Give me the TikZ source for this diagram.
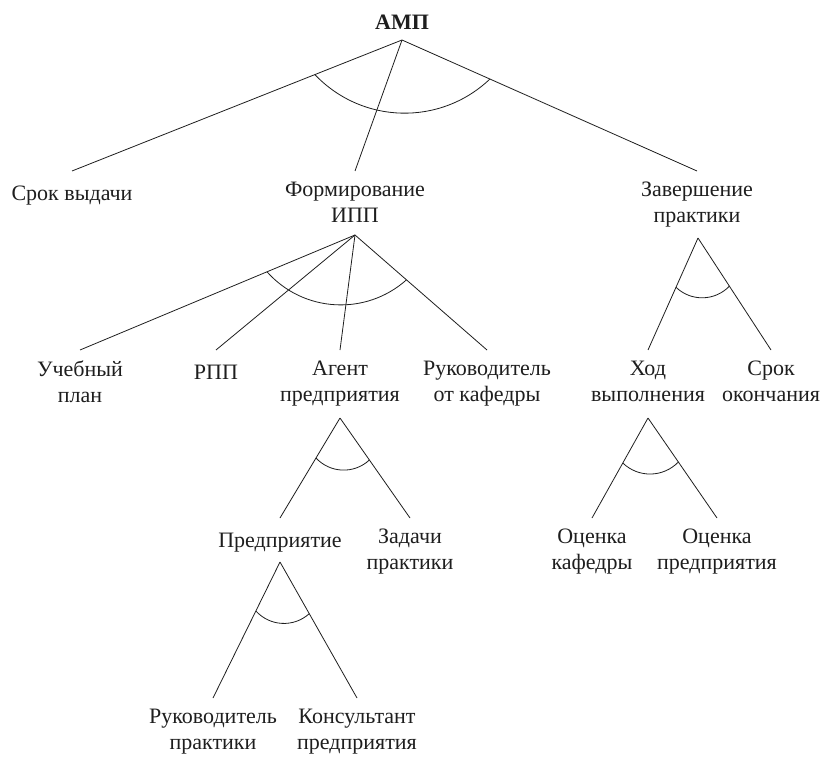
\documentclass[tikz,border=0pt]{standalone}
\usepackage{fontspec}
\setmainfont{Liberation Serif}
\usetikzlibrary{calc}
\definecolor{ink}{RGB}{30, 30, 30}
\tikzset{
    lbl/.style  = {font=\fontsize{22}{26}\selectfont, text=ink, align=center, anchor=north,
                   inner xsep=0pt, inner ysep=11pt,
                   execute at begin node=\strut, execute at end node=\strut},
    link/.style = {draw=ink, line width=0.8pt},
    andarc/.style = {link, bend right=45}
}

\begin{document}
\begin{tikzpicture}[x=1pt, y=-1pt]
            \useasboundingbox                                   (0, 0) rectangle (822, 757);
            \node[lbl] (amp)    at (402,   0) {\textbf{АМП}};
            \node[lbl] (srok)   at ( 72, 171) {Срок выдачи};
            \node[lbl] (ipp)    at (355, 171) {Формирование\\ИПП};
            \node[lbl] (zav)    at (697, 171) {Завершение\\практики};
            \node[lbl] (ucheb)  at ( 80, 350) {Учебный\\план};
            \node[lbl] (rpp)    at (216, 350) {РПП};
            \node[lbl] (agent)  at (340, 350) {Агент\\предприятия};
            \node[lbl] (ruk)    at (487, 350) {Руководитель\\от кафедры};
            \node[lbl] (hod)    at (648, 350) {Ход\\выполнения};
            \node[lbl] (srokok) at (771, 350) {Срок\\окончания};
            \node[lbl] (pred)   at (280, 518) {Предприятие};
            \node[lbl] (zad)    at (410, 518) {Задачи\\практики};
            \node[lbl] (ockaf)  at (592, 518) {Оценка\\кафедры};
            \node[lbl] (ocpred) at (717, 518) {Оценка\\предприятия};
            \node[lbl] (rukpr)  at (213, 698) {Руководитель\\практики};
            \node[lbl] (kons)   at (357, 698) {Консультант\\предприятия};

            \coordinate (amp-r)   at (402,  40);
            \coordinate (ipp-r)   at (355, 235);
            \coordinate (zav-r)   at (698, 238);
            \coordinate (agent-r) at (340, 418);
            \coordinate (hod-r)   at (648, 418);
            \coordinate (pred-r)  at (280, 562);

            \foreach \r/\c in {amp-r/srok, amp-r/ipp, amp-r/zav,
                               ipp-r/ucheb, ipp-r/rpp, ipp-r/agent, ipp-r/ruk,
                               zav-r/hod, zav-r/srokok, agent-r/pred, agent-r/zad,
                               hod-r/ockaf, hod-r/ocpred, pred-r/rukpr, pred-r/kons}
                \draw[link] (\r) -- (\c.north);

            \draw[andarc] ($(amp-r)!0.264!(srok.north)$)    to ($(amp-r)!0.298!(zav.north)$);
            \draw[andarc] ($(ipp-r)!0.32!(ucheb.north)$)    to ($(ipp-r)!0.39!(ruk.north)$);
            \draw[andarc] ($(zav-r)!0.44!(hod.north)$)      to ($(zav-r)!0.43!(srokok.north)$);
            \draw[andarc] ($(agent-r)!0.40!(pred.north)$)   to ($(agent-r)!0.42!(zad.north)$);
            \draw[andarc] ($(hod-r)!0.45!(ockaf.north)$)    to ($(hod-r)!0.44!(ocpred.north)$);
            \draw[andarc] ($(pred-r)!0.36!(rukpr.north)$)   to ($(pred-r)!0.38!(kons.north)$);
\end{tikzpicture}
\end{document}
